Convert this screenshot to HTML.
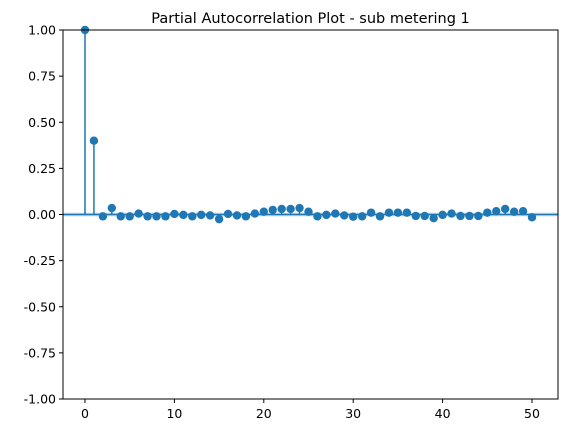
<!DOCTYPE html>
<html><head><meta charset="utf-8"><style>
body{margin:0;background:#fff;}
svg{display:block;font-family:"DejaVu Sans","Liberation Sans",sans-serif;}
</style></head><body>
<svg id="chart" width="568" height="433" viewBox="0 0 568 433"></svg>
<script>
const lags = [];
for (let i = 0; i <= 50; i++) lags.push(i);
const pacfValues = [1.0,0.40,-0.01,0.035,-0.01,-0.01,0.005,-0.01,-0.01,-0.01,0.003,-0.002,-0.01,-0.002,-0.005,-0.025,0.003,-0.005,-0.01,0.005,0.015,0.025,0.03,0.03,0.035,0.015,-0.01,-0.002,0.005,-0.005,-0.012,-0.01,0.01,-0.01,0.01,0.01,0.01,-0.008,-0.008,-0.02,-0.002,0.005,-0.008,-0.008,-0.008,0.01,0.018,0.03,0.015,0.018,-0.015];
const xTicks = [0,10,20,30,40,50];
const yTicks = [-1.00,-0.75,-0.50,-0.25,0.00,0.25,0.50,0.75,1.00];
const confBand = 0.01;

const L=63,R=558,T=30,B=399;
const xs = v => 85 + (v/50)*(532-85);
const ys = v => T + (1 - v)/2*(B-T);
const svg = document.getElementById('chart');
const NS='http://www.w3.org/2000/svg';
function mk(tag, attrs, parent){const e=document.createElementNS(NS,tag);for(const k in attrs)e.setAttribute(k,attrs[k]);(parent||svg).appendChild(e);return e;}

const band = mk('rect',{x:L,y:ys(confBand),width:R-L,height:ys(-confBand)-ys(confBand),fill:'#1f77b4','fill-opacity':0.25});



const zero = mk('line',{x1:L,x2:R,y1:ys(0),y2:ys(0),stroke:'#1f77b4','stroke-width':1.5});



lags.forEach((lag,i)=>{
  const v = pacfValues[i];
  const st = mk('line',{x1:xs(lag),x2:xs(lag),y1:ys(0),y2:ys(v),stroke:'#1f77b4','stroke-width':1.5});
  
  
});
lags.forEach((lag,i)=>{
  const c = mk('circle',{cx:xs(lag),cy:ys(pacfValues[i]),r:4.2,fill:'#1f77b4'});
  
  
});

const frame = mk('rect',{x:L,y:T,width:R-L,height:B-T,fill:'none',stroke:'#000','stroke-width':1});



xTicks.forEach(t=>{
  mk('line',{x1:xs(t),x2:xs(t),y1:B,y2:B+4,stroke:'#000','stroke-width':1});
  const tx = mk('text',{x:xs(t),y:B+19,'text-anchor':'middle','font-size':12.5,fill:'#000'});
  tx.textContent = t;
  
  
});
yTicks.forEach(t=>{
  mk('line',{x1:L-4,x2:L,y1:ys(t),y2:ys(t),stroke:'#000','stroke-width':1});
  const tx = mk('text',{x:L-7,y:ys(t)+4.5,'text-anchor':'end','font-size':12.5,fill:'#000'});
  tx.textContent = t.toFixed(2);
  
  
});
const title = mk('text',{x:(L+R)/2,y:23,'text-anchor':'middle','font-size':14.5,fill:'#000'});
title.textContent = 'Partial Autocorrelation Plot - sub metering 1';


</script>
</body></html>
